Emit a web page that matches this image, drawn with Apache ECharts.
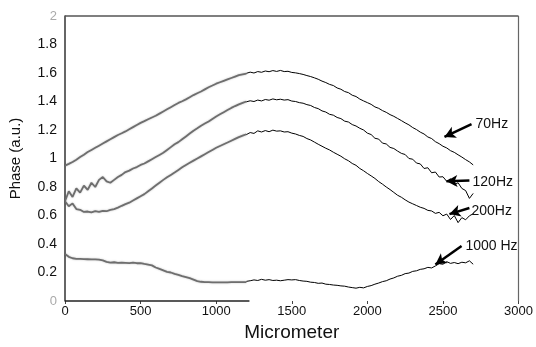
<!DOCTYPE html>
<html>
<head>
<meta charset="utf-8">
<script src="https://cdn.jsdelivr.net/npm/echarts@6/dist/echarts.min.js"></script>
<style>html,body{margin:0;padding:0;background:#fff}#c{width:536px;height:347px}</style>
</head>
<body>
<div id="c"></div>
<script>
// sample positions (micrometer)
var xLeft = [0,25,50,75,100,125,150,175,200,225,250,275,300,325,350,375,400,425,450,475,500,525,550,575,600,625,650,675,700,725,750,775,800,825,850,875,900,925,950,975,1000,1025,1050,1075,1100,1125,1150,1175,1200];
var xRight = [1200,1225,1250,1275,1300,1325,1350,1375,1400,1425,1450,1475,1500,1525,1550,1575,1600,1625,1650,1675,1700,1725,1750,1775,1800,1825,1850,1875,1900,1925,1950,1975,2000,2025,2050,2075,2100,2125,2150,2175,2200,2225,2250,2275,2300,2325,2350,2375,2400,2425,2450,2475,2500,2525,2550,2575,2600,2625,2650,2675,2700];

// 70 Hz
var hz70Left = [0.95,0.962,0.975,0.992,1.01,1.027,1.045,1.06,1.075,1.09,1.105,1.12,1.135,1.15,1.165,1.177,1.19,1.205,1.22,1.235,1.25,1.262,1.275,1.288,1.30,1.315,1.33,1.345,1.36,1.375,1.39,1.402,1.415,1.43,1.445,1.458,1.47,1.485,1.50,1.512,1.525,1.535,1.545,1.555,1.565,1.575,1.585,1.59,1.595];
var hz70Right = [1.598,1.606,1.600,1.610,1.605,1.614,1.609,1.617,1.611,1.618,1.610,1.612,1.604,1.601,1.596,1.590,1.582,1.575,1.566,1.556,1.543,1.533,1.520,1.512,1.495,1.486,1.470,1.462,1.444,1.435,1.417,1.404,1.392,1.380,1.362,1.352,1.336,1.324,1.308,1.296,1.281,1.266,1.250,1.236,1.217,1.203,1.185,1.172,1.151,1.140,1.118,1.104,1.086,1.074,1.055,1.043,1.026,1.010,0.992,0.976,0.955];

// 120 Hz
var hz120Left = [0.70,0.77,0.73,0.79,0.76,0.81,0.78,0.83,0.80,0.85,0.87,0.84,0.83,0.85,0.87,0.885,0.905,0.915,0.93,0.94,0.955,0.965,0.98,0.995,1.01,1.025,1.04,1.06,1.08,1.10,1.115,1.135,1.155,1.175,1.195,1.212,1.23,1.245,1.26,1.278,1.295,1.31,1.325,1.34,1.355,1.368,1.38,1.39,1.40];
var hz120Right = [1.398,1.405,1.400,1.410,1.404,1.414,1.409,1.418,1.412,1.416,1.410,1.413,1.403,1.400,1.392,1.388,1.378,1.372,1.358,1.350,1.334,1.326,1.310,1.304,1.288,1.280,1.262,1.256,1.238,1.228,1.212,1.200,1.178,1.168,1.142,1.136,1.108,1.102,1.078,1.070,1.052,1.036,1.028,1.000,0.995,0.968,0.962,0.930,0.935,0.900,0.905,0.870,0.872,0.840,0.858,0.815,0.830,0.790,0.775,0.720,0.755];

// 200 Hz
var hz200Left = [0.70,0.665,0.685,0.645,0.64,0.625,0.628,0.622,0.63,0.625,0.632,0.63,0.64,0.645,0.655,0.668,0.68,0.69,0.705,0.72,0.735,0.75,0.77,0.79,0.81,0.83,0.85,0.868,0.885,0.902,0.92,0.938,0.955,0.97,0.985,1.0,1.015,1.03,1.045,1.06,1.075,1.088,1.10,1.112,1.125,1.138,1.15,1.16,1.17];
var hz200Right = [1.168,1.182,1.176,1.194,1.186,1.196,1.188,1.199,1.192,1.194,1.186,1.188,1.178,1.172,1.162,1.155,1.140,1.130,1.115,1.100,1.086,1.072,1.060,1.044,1.030,1.016,0.998,0.984,0.965,0.952,0.930,0.914,0.895,0.878,0.860,0.838,0.820,0.800,0.782,0.762,0.742,0.728,0.710,0.694,0.682,0.670,0.658,0.650,0.636,0.632,0.615,0.622,0.598,0.610,0.572,0.600,0.550,0.585,0.570,0.598,0.612];

// 1000 Hz
var hz1000Left = [0.33,0.31,0.30,0.296,0.295,0.294,0.293,0.292,0.292,0.29,0.285,0.275,0.27,0.272,0.268,0.27,0.268,0.266,0.27,0.265,0.266,0.26,0.255,0.25,0.235,0.225,0.215,0.205,0.2,0.19,0.183,0.175,0.168,0.16,0.15,0.14,0.135,0.133,0.132,0.131,0.131,0.131,0.131,0.131,0.132,0.132,0.132,0.133,0.133];
var hz1000Right = [0.138,0.142,0.148,0.144,0.152,0.146,0.150,0.144,0.146,0.142,0.146,0.150,0.148,0.150,0.144,0.140,0.138,0.132,0.130,0.124,0.126,0.118,0.116,0.112,0.110,0.106,0.104,0.098,0.094,0.090,0.096,0.092,0.102,0.108,0.118,0.126,0.136,0.142,0.154,0.162,0.174,0.180,0.192,0.196,0.208,0.212,0.222,0.226,0.236,0.232,0.246,0.262,0.258,0.276,0.264,0.270,0.262,0.272,0.268,0.282,0.258];

// annotations: label text, label anchor [x,y], arrow tail, arrow head (data units)
var annoText = ['70Hz','120Hz','200Hz','1000 Hz'];
var annoLabelAt = [[2709,1.242],[2689,0.835],[2682,0.634],[2642,0.388]];
var annoTail = [[2689,1.242],[2675,0.846],[2675,0.653],[2623,0.386]];
var annoHead = [[2510,1.151],[2523,0.84],[2543,0.61],[2450,0.256]];

// axis ticks
var xTicks = [0,500,1000,1500,2000,2500,3000];
var yTicks = [0,0.2,0.4,0.6,0.8,1,1.2,1.4,1.6,1.8,2];

var FONT = 'Arial, "Liberation Sans", sans-serif';
function pairs(xs, ys){ return xs.map(function(x,i){ return [x, ys[i]]; }); }

function grayLine(name, ys){
  return {name:name, type:'line', data:pairs(xLeft, ys), showSymbol:false, symbol:'none', silent:true,
    lineStyle:{color:'#6e6e6e', width:1.8, shadowColor:'rgba(0,0,0,0.25)', shadowBlur:2}, z:2};
}
function blackLine(name, ys){
  return {name:name, type:'line', data:pairs(xRight, ys), showSymbol:false, symbol:'none', silent:true,
    lineStyle:{color:'#000', width:1}, z:3};
}

var markLines = annoTail.map(function(t,i){
  return [{coord:t, symbol:'none'}, {coord:annoHead[i], symbol:'arrow', symbolSize:[9,11]}];
});
// frame: partial bottom axis, top border, right border
markLines.push([{coord:[0,0], symbol:'none'},{coord:[1220,0], symbol:'none', lineStyle:{color:'#222', width:1.5}}]);
markLines.push([{coord:[0,2], symbol:'none'},{coord:[3000,2], symbol:'none', lineStyle:{color:'#555', width:1.5}}]);
markLines.push([{coord:[3000,0], symbol:'none'},{coord:[3000,2], symbol:'none', lineStyle:{color:'#666', width:1.2}}]);

var markPoints = annoText.map(function(t,i){
  return {coord:annoLabelAt[i], value:t, symbol:'circle', symbolSize:0,
    label:{show:true, position:'right', distance:1, formatter:t, color:'#111', fontSize:14, fontFamily:FONT}};
});

var option = {
  animation:false,
  backgroundColor:'#fff',
  grid:{left:65, right:17, top:16, bottom:45},
  xAxis:{
    type:'value', min:0, max:3000, interval:500,
    name:'Micrometer', nameLocation:'middle', nameGap:22,
    nameTextStyle:{fontSize:19, color:'#111', fontFamily:FONT},
    axisLine:{show:false},
    axisTick:{show:true, length:3, lineStyle:{color:'#444'}},
    axisLabel:{fontSize:13, color:'#111', fontFamily:FONT, margin:4,
      formatter:function(v){ return String(v); }},
    splitLine:{show:false}
  },
  yAxis:{
    type:'value', min:0, max:2, interval:0.2,
    name:'Phase (a.u.)', nameLocation:'middle', nameGap:42,
    nameTextStyle:{fontSize:15, color:'#111', fontFamily:FONT},
    axisLine:{show:true, lineStyle:{color:'#333', width:1.5}},
    axisTick:{show:false},
    axisLabel:{fontSize:14, color:'#111', fontFamily:FONT, margin:8,
      formatter:function(v){ var s = String(Math.round(v*10)/10); return (v===0||v===2)? '{f|'+s+'}' : s; },
      rich:{f:{color:'#aaa', fontSize:13, fontFamily:FONT}}},
    splitLine:{show:false}
  },
  series:[
    grayLine('70Hz a', hz70Left), blackLine('70Hz b', hz70Right),
    grayLine('120Hz a', hz120Left), blackLine('120Hz b', hz120Right),
    grayLine('200Hz a', hz200Left), blackLine('200Hz b', hz200Right),
    grayLine('1000Hz a', hz1000Left), blackLine('1000Hz b', hz1000Right),
    {name:'annotations', type:'line', data:[], silent:true, z:5,
      markLine:{silent:true, animation:false, label:{show:false},
        lineStyle:{color:'#000', width:2.5, type:'solid'}, data:markLines},
      markPoint:{silent:true, animation:false, data:markPoints}}
  ]
};
echarts.init(document.getElementById('c')).setOption(option);
</script>
</body>
</html>
